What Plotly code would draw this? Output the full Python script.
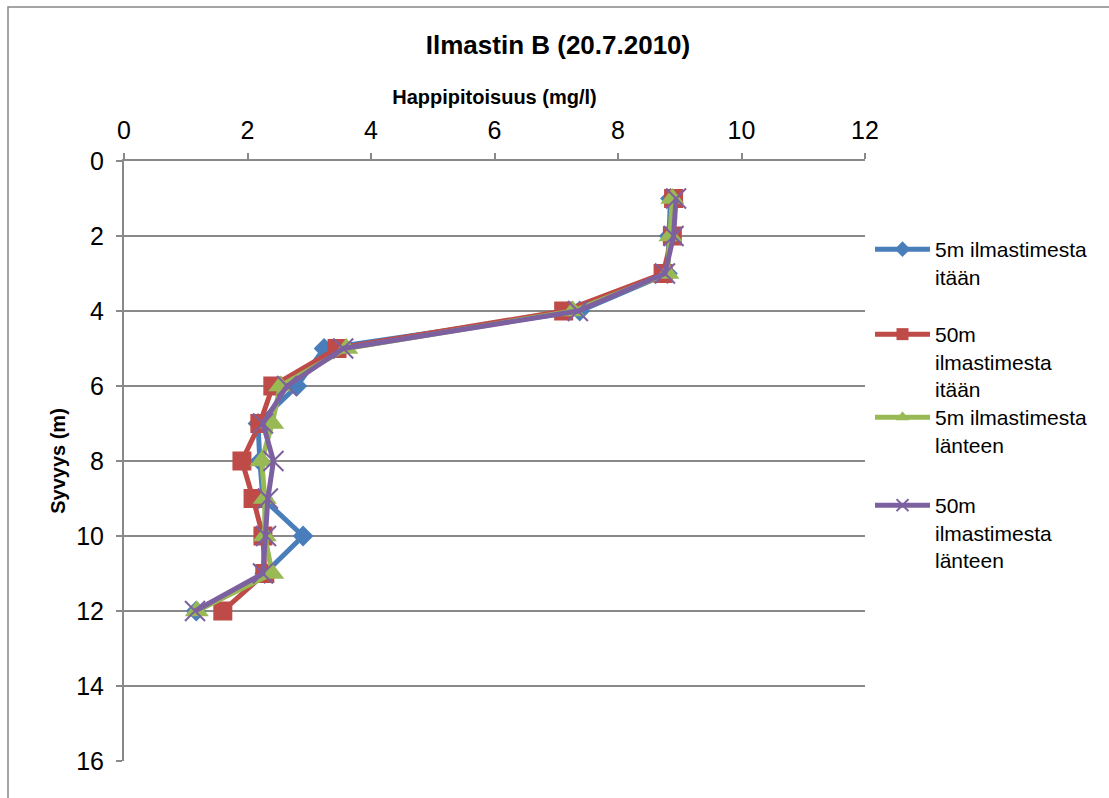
import plotly.graph_objects as go

# Depth profile of dissolved oxygen at aerator B
depth = [1, 2, 3, 4, 5, 6, 7, 8, 9, 10, 11, 12]
east_5m = [8.85, 8.83, 8.80, 7.38, 3.24, 2.80, 2.17, 2.20, 2.25, 2.90, 2.28, 1.17]
east_50m = [8.90, 8.88, 8.73, 7.12, 3.45, 2.41, 2.20, 1.91, 2.09, 2.25, 2.28, 1.60]
west_5m = [8.88, 8.85, 8.80, 7.27, 3.60, 2.53, 2.40, 2.23, 2.28, 2.28, 2.40, 1.18]
west_50m = [8.94, 8.90, 8.76, 7.35, 3.55, 2.64, 2.25, 2.42, 2.33, 2.30, 2.25, 1.15]

series_names = [
    "5m ilmastimesta<br>itään",
    "50m<br>ilmastimesta<br>itään",
    "5m ilmastimesta<br>länteen",
    "50m<br>ilmastimesta<br>länteen",
]
x_ticks = [0, 2, 4, 6, 8, 10, 12]
y_ticks = [0, 2, 4, 6, 8, 10, 12, 14, 16]

FONT = "Liberation Sans, Arial, sans-serif"
GRID = "#898989"

styles = [
    dict(color="#4A7EBB", symbol="diamond", size=16, lw=0),
    dict(color="#BE4B48", symbol="square", size=19, lw=0),
    dict(color="#98B954", symbol="triangle-up", size=21, lw=0),
    dict(color="#7D60A0", symbol="x-thin-open", size=20, lw=2),
]
values = [east_5m, east_50m, west_5m, west_50m]

# Plot area in pixels: x 124..865, y 161..761
PL, PR, PT, PB = 124, 865, 161, 761
W, H = 1109, 798


def px_x(p):
    return (p - PL) / (PR - PL)


def px_y(p):
    return (PB - p) / (PB - PT)


fig = go.Figure()
legend_ids = ["legend", "legend2", "legend3", "legend4"]
for name, vals, st, lg in zip(series_names, values, styles, legend_ids):
    marker = dict(color=st["color"], symbol=st["symbol"], size=st["size"])
    if st["lw"]:
        marker["line"] = dict(color=st["color"], width=st["lw"])
    fig.add_trace(go.Scatter(
        x=vals, y=depth, name=name, mode="lines+markers",
        line=dict(color=st["color"], width=5),
        marker=marker, legend=lg, showlegend=True,
    ))

legend_tops = [229, 314, 397, 485]
legend_common = dict(
    font=dict(family=FONT, size=21, color="#000000"),
    bgcolor="rgba(0,0,0,0)", borderwidth=0, valign="top",
    xanchor="left", yanchor="top", itemwidth=55, itemsizing="constant",
    visible=True,
)
legend_layout = {}
for lg, top in zip(legend_ids, legend_tops):
    legend_layout[lg] = dict(x=px_x(870), y=px_y(top), **legend_common)

fig.update_layout(
    width=W, height=H, autosize=False, showlegend=True,
    margin=dict(l=PL, r=W - PR, t=PT, b=H - PB),
    paper_bgcolor="white", plot_bgcolor="white",
    font=dict(family=FONT, color="#000000"),
    title=dict(
        text="<b>Ilmastin B (20.7.2010)</b>",
        font=dict(family=FONT, size=26, color="#000000"),
        x=558 / W, xanchor="center", xref="container",
        y=1 - 45 / H, yanchor="middle", yref="container",
    ),
    xaxis=dict(
        side="top", range=[0, 12], tickvals=x_ticks,
        showgrid=False, zeroline=False,
        showline=True, linecolor=GRID, linewidth=2,
        ticks="outside", ticklen=6, tickcolor=GRID, tickwidth=1.5,
        tickfont=dict(family=FONT, size=25, color="#000000"),
        ticklabelstandoff=4,
        title=dict(text="<b>Happipitoisuus (mg/l)</b>",
                   font=dict(family=FONT, size=20, color="#000000"),
                   standoff=6),
    ),
    yaxis=dict(
        range=[16, 0], tickvals=y_ticks,
        showgrid=True, gridcolor=GRID, gridwidth=2, zeroline=False,
        showline=True, linecolor=GRID, linewidth=2,
        ticks="outside", ticklen=6, tickcolor=GRID, tickwidth=1.5,
        tickfont=dict(family=FONT, size=25, color="#000000"),
        ticklabelstandoff=7,
        title=dict(text="<b>Syvyys (m)</b>",
                   font=dict(family=FONT, size=20, color="#000000"),
                   standoff=5),
    ),
    shapes=[dict(
        type="rect", xref="paper", yref="paper",
        x0=px_x(8), x1=px_x(1130), y0=px_y(820), y1=px_y(7),
        line=dict(color="#878787", width=1.5), fillcolor="rgba(0,0,0,0)",
        layer="below",
    )],
    **legend_layout,
)

fig.write_html("out.html")
